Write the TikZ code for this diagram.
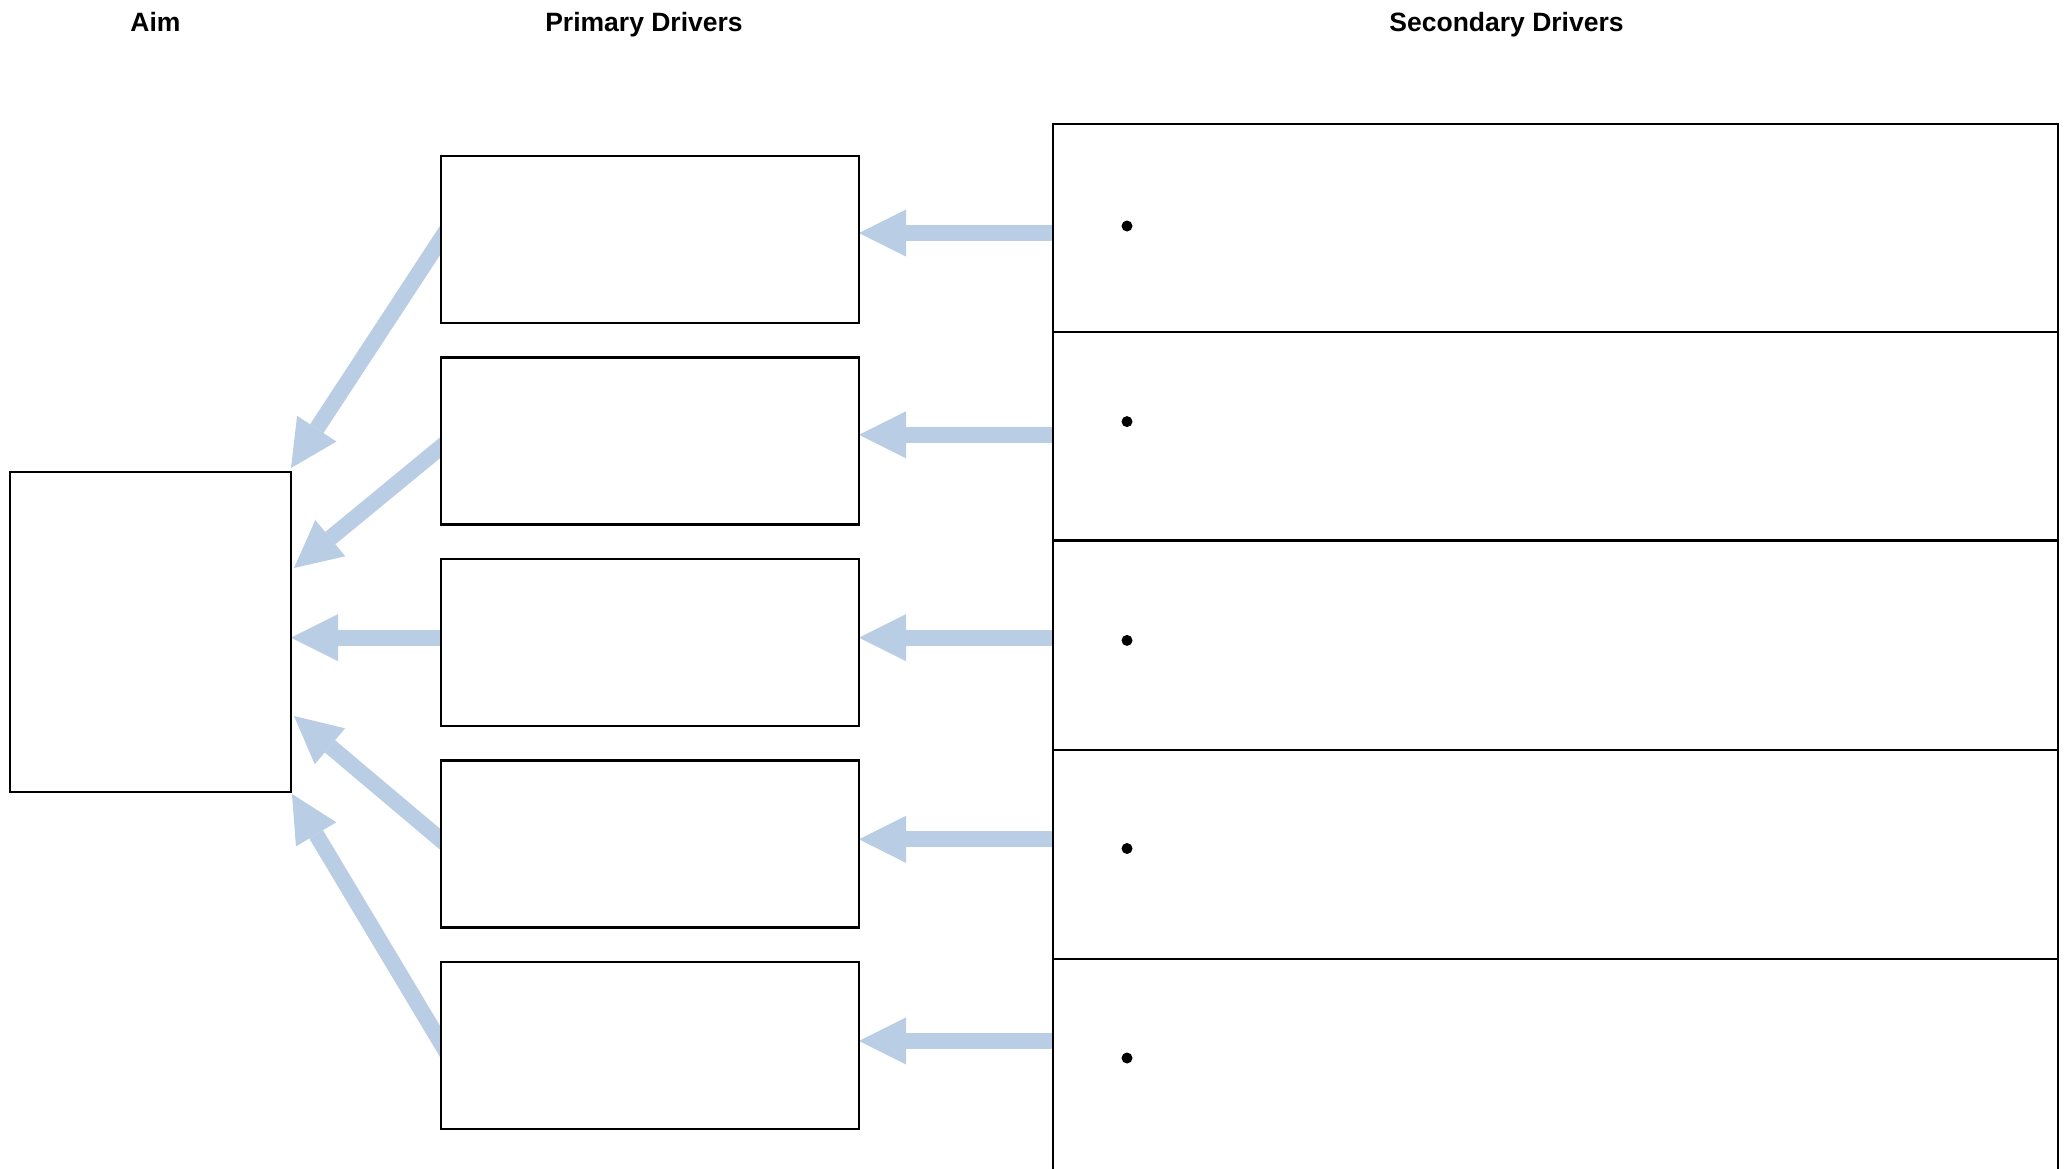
\documentclass[tikz,border=0pt]{standalone}
\usepackage{fontspec}
\setmainfont{Liberation Sans}
\usetikzlibrary{arrows.meta,backgrounds,calc}
\definecolor{arrowblue}{RGB}{185,205,229}
\tikzset{
  header/.style={font=\fontsize{13.25pt}{15pt}\selectfont\bfseries, anchor=base, inner sep=0pt},
  aimbox/.style={draw=black, line width=1.1pt, fill=white, minimum width=140.5pt, minimum height=160pt, inner sep=0pt, outer sep=0pt},
  primbox/.style={draw=black, line width=1.1pt, fill=white, minimum width=209pt, minimum height=83.5pt, inner sep=0pt, outer sep=0pt},
  secbox/.style={draw=black, line width=1.1pt, anchor=north west, minimum width=502.5pt, inner sep=0pt, outer sep=0pt},
  bulletdot/.style={circle, fill=black, inner sep=0pt, minimum size=5.5pt},
  bigarrow/.style={draw=arrowblue, line width=8pt, -{Triangle[length=23.5pt, width=23.5pt, line width=0pt]}, arrowblue}
}
\begin{document}
\begin{tikzpicture}[x=0.5pt, y=-0.5pt]
\useasboundingbox (0,0) rectangle (2066,1168);

% headers
\node[header] (haim) at (155.5,31.5) {Aim};
\node[header] (hprim) at (644,31.5) {Primary Drivers};
\node[header] (hsec) at (1506.5,31.5) {Secondary Drivers};

% aim box
\node[aimbox] (aim) at (150.5,632) {};

% primary boxes
\node[primbox] (p1) at (650,239.5) {};
\node[primbox] (p2) at (650,441) {};
\node[primbox] (p3) at (650,642.5) {};
\node[primbox] (p4) at (650,844) {};
\node[primbox] (p5) at (650,1045.5) {};

% secondary boxes
\node[secbox, minimum height=104pt] (s1) at (1053,124) {};
\node[secbox, minimum height=104.25pt] (s2) at (1053,332) {};
\node[secbox, minimum height=104.6pt] (s3) at (1053,540.5) {};
\node[secbox, minimum height=104.65pt] (s4) at (1053,749.7) {};
\node[secbox, minimum height=108pt] (s5) at (1053,959) {};

% bullets
\node[bulletdot] (b1) at (1127,226) {};
\node[bulletdot] (b2) at (1127,421.6) {};
\node[bulletdot] (b3) at (1127,640.4) {};
\node[bulletdot] (b4) at (1127,848.5) {};
\node[bulletdot] (b5) at (1127,1058) {};

% connector end points
\coordinate (l1s) at (p1.west |- 0,239);
\coordinate (l1t) at (aim.east |- 0,468);
\coordinate (l2s) at (p2.west |- 0,447);
\coordinate (l2t) at ([xshift=1.5pt]aim.east |- 0,568);
\coordinate (l3s) at (p3.west |- 0,637.7);
\coordinate (l3t) at (aim.east |- 0,637.7);
\coordinate (l4s) at (p4.west |- 0,840);
\coordinate (l4t) at ([xshift=1.5pt]aim.east |- 0,716);
\coordinate (l5s) at (p5.west |- 0,1043);
\coordinate (l5t) at ([xshift=0.5pt]aim.east |- 0,794);

\begin{pgfonlayer}{background}
\fill[white] (0,0) rectangle (2066,1168);
% arrows secondary -> primary
\draw[bigarrow] (s1.west |- 0,233) -- (p1.east |- 0,233);
\draw[bigarrow] (s2.west |- 0,434.8) -- (p2.east |- 0,434.8);
\draw[bigarrow] (s3.west |- 0,637.7) -- (p3.east |- 0,637.7);
\draw[bigarrow] (s4.west |- 0,839.3) -- (p4.east |- 0,839.3);
\draw[bigarrow] (s5.west |- 0,1040.9) -- (p5.east |- 0,1040.9);
% arrows primary -> aim
\draw[bigarrow] ($(l1s)!-8pt!(l1t)$) -- (l1t);
\draw[bigarrow] ($(l2s)!-8pt!(l2t)$) -- (l2t);
\draw[bigarrow] ($(l3s)!-8pt!(l3t)$) -- (l3t);
\draw[bigarrow] ($(l4s)!-8pt!(l4t)$) -- (l4t);
\draw[bigarrow] ($(l5s)!-8pt!(l5t)$) -- (l5t);
\end{pgfonlayer}
\end{tikzpicture}
\end{document}
